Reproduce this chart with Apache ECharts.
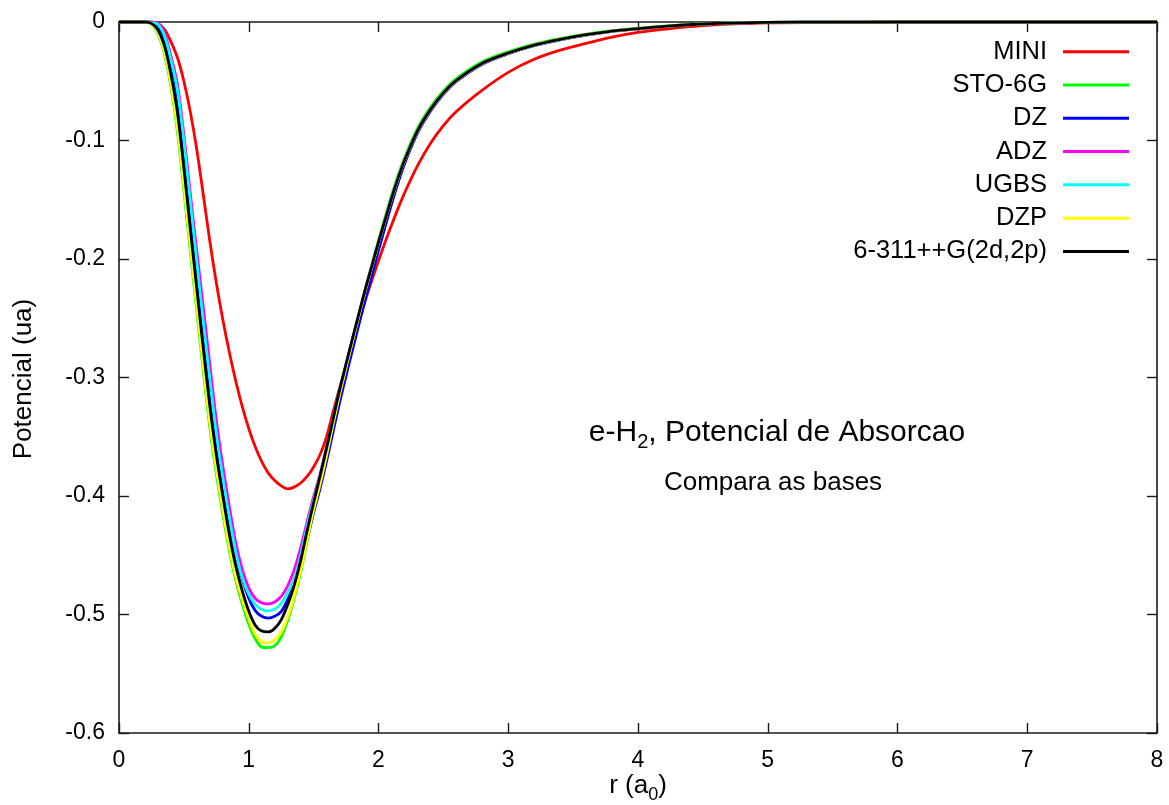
<!DOCTYPE html>
<html>
<head>
<meta charset="utf-8">
<script src="https://cdn.jsdelivr.net/npm/echarts@6/dist/echarts.min.js"></script>
<style>
  html, body { margin: 0; padding: 0; background: #ffffff; }
  #chart { width: 1169px; height: 805px; }
</style>
</head>
<body>
<div id="chart"></div>
<script>
// Radial grid r (a0) shared by every basis-set curve
const r = [0, 0.2, 0.25, 0.3, 0.35, 0.4, 0.45, 0.5,
  0.55, 0.6, 0.65, 0.7, 0.75, 0.8, 0.85, 0.9, 0.95, 1.0,
  1.05, 1.1, 1.15, 1.2, 1.25, 1.3, 1.35, 1.4, 1.45, 1.5, 1.55, 1.6, 1.65, 1.7,
  1.75, 1.8, 1.85, 1.9, 1.95, 2.0, 2.05, 2.1, 2.15, 2.2,
  2.3, 2.4, 2.5, 2.6,
  2.8, 3.0, 3.2, 3.4, 3.6, 3.8, 4.0,
  4.25, 4.5, 5.0, 5.5, 6, 7, 8];

// Absorption potential (ua) for each basis set
const mini = [0, 0, 0, -0.0012, -0.0062, -0.0165, -0.030, -0.050,
  -0.076, -0.108, -0.146, -0.185, -0.220, -0.251, -0.2785, -0.303, -0.3245, -0.343,
  -0.3585, -0.371, -0.3805, -0.387, -0.3915, -0.394, -0.3925, -0.389, -0.3835, -0.3755, -0.365, -0.350, -0.329, -0.309,
  -0.2905, -0.272, -0.2535, -0.2345, -0.2175, -0.2015, -0.186, -0.1715, -0.1575, -0.1445,
  -0.1215, -0.1025, -0.0875, -0.0755,
  -0.0575, -0.0425, -0.0315, -0.0238, -0.018, -0.0128, -0.0088,
  -0.0055, -0.003, -0.0008, -0.0002, 0, 0, 0];

const sto6g = [0, 0, -0.0018, -0.010, -0.027, -0.0545, -0.092, -0.142,
  -0.194, -0.2445, -0.295, -0.342, -0.381, -0.415, -0.446, -0.471, -0.491, -0.508,
  -0.5205, -0.5275, -0.528, -0.5265, -0.519, -0.505, -0.4865, -0.4645, -0.438, -0.4135, -0.391, -0.366, -0.340, -0.3145,
  -0.2905, -0.2685, -0.2465, -0.2248, -0.2043, -0.1842, -0.165, -0.1465, -0.1298, -0.1148,
  -0.0898, -0.072, -0.0582, -0.0478,
  -0.0336, -0.0252, -0.0187, -0.014, -0.0102, -0.0073, -0.0053,
  -0.0031, -0.0016, -0.0004, -0.0001, 0, 0, 0];

const dz = [0, 0, -0.0008, -0.0032, -0.0135, -0.0346, -0.0616, -0.106,
  -0.1575, -0.2083, -0.259, -0.3075, -0.3507, -0.3878, -0.4206, -0.4482, -0.4702, -0.4862,
  -0.4967, -0.5015, -0.503, -0.5015, -0.4975, -0.4874, -0.4746, -0.4581, -0.436, -0.4139, -0.3935, -0.3705, -0.3458, -0.3212,
  -0.2986, -0.2765, -0.2548, -0.2333, -0.2133, -0.1927, -0.1732, -0.1538, -0.136, -0.1198,
  -0.0938, -0.0753, -0.061, -0.0502,
  -0.0356, -0.0268, -0.020, -0.015, -0.011, -0.0079, -0.0058,
  -0.0034, -0.0018, -0.0004, -0.0001, 0, 0, 0];

const adz = [0, 0, -0.0002, -0.001, -0.0094, -0.0286, -0.0522, -0.095,
  -0.145, -0.1935, -0.2408, -0.289, -0.3357, -0.3745, -0.4086, -0.4395, -0.462, -0.4775,
  -0.4865, -0.4902, -0.491, -0.4895, -0.4848, -0.4758, -0.4625, -0.4438, -0.4215, -0.4005, -0.3815, -0.3585, -0.3352, -0.311,
  -0.289, -0.2675, -0.2463, -0.2253, -0.2058, -0.1862, -0.1677, -0.1493, -0.1325, -0.1173,
  -0.0923, -0.0743, -0.0603, -0.0497,
  -0.0352, -0.0266, -0.0198, -0.0149, -0.0109, -0.0079, -0.0058,
  -0.0034, -0.0018, -0.0004, -0.0001, 0, 0, 0];

const ugbs = [0, 0, -0.0006, -0.0022, -0.0116, -0.0319, -0.0573, -0.101,
  -0.1523, -0.2033, -0.254, -0.3015, -0.3478, -0.3848, -0.4182, -0.4475, -0.469, -0.483,
  -0.4915, -0.4958, -0.497, -0.4955, -0.4905, -0.4815, -0.470, -0.450, -0.4255, -0.4035, -0.383, -0.3595, -0.3352, -0.311,
  -0.289, -0.2672, -0.246, -0.225, -0.2055, -0.1859, -0.1675, -0.1491, -0.1323, -0.1171,
  -0.0921, -0.0741, -0.0601, -0.0495,
  -0.035, -0.0264, -0.0197, -0.0148, -0.0108, -0.0078, -0.0057,
  -0.0033, -0.0017, -0.0004, -0.0001, 0, 0, 0];

const dzp = [0, 0, -0.0016, -0.0093, -0.0257, -0.0523, -0.0888, -0.138,
  -0.190, -0.2405, -0.2908, -0.3385, -0.3773, -0.4116, -0.4433, -0.4683, -0.4876, -0.5038,
  -0.5168, -0.5232, -0.524, -0.5215, -0.515, -0.5023, -0.4845, -0.4627, -0.4365, -0.4118, -0.3898, -0.3655, -0.3395, -0.3148,
  -0.2918, -0.2695, -0.2475, -0.226, -0.2061, -0.1862, -0.1674, -0.149, -0.1321, -0.1169,
  -0.0918, -0.0738, -0.0598, -0.0492,
  -0.0348, -0.0262, -0.0195, -0.0146, -0.0107, -0.0077, -0.0056,
  -0.0033, -0.0017, -0.0004, -0.0001, 0, 0, 0];

const pople = [0, 0, -0.0012, -0.0066, -0.020, -0.044, -0.076, -0.123,
  -0.175, -0.2255, -0.2758, -0.324, -0.365, -0.3998, -0.432, -0.459, -0.480, -0.497,
  -0.509, -0.514, -0.5147, -0.5117, -0.5045, -0.4918, -0.4754, -0.4545, -0.4293, -0.4057, -0.383, -0.3595, -0.3352, -0.3107,
  -0.2886, -0.267, -0.2458, -0.2248, -0.2053, -0.1857, -0.1672, -0.1488, -0.132, -0.1168,
  -0.0918, -0.0738, -0.0598, -0.0492,
  -0.0348, -0.0262, -0.0195, -0.0146, -0.0107, -0.0077, -0.0056,
  -0.0033, -0.0017, -0.0004, -0.0001, 0, 0, 0];

const seriesNames = ['MINI', 'STO-6G', 'DZ', 'ADZ', 'UGBS', 'DZP', '6-311++G(2d,2p)'];
const seriesColors = ['#ff0000', '#00ff00', '#0000ff', '#ff00ff', '#00ffff', '#ffff00', '#000000'];
const seriesValues = [mini, sto6g, dz, adz, ugbs, dzp, pople];

// Axis ticks
const xTicks = [0, 1, 2, 3, 4, 5, 6, 7, 8];
const yTicks = [-0.6, -0.5, -0.4, -0.3, -0.2, -0.1, 0];

const FONT = "'Liberation Sans', Arial, Helvetica, sans-serif";
const frameLine = { show: true, onZero: false, lineStyle: { color: '#1a1a1a', width: 1.6 } };
const innerTick = { show: true, inside: true, length: 10, lineStyle: { color: '#1a1a1a', width: 1.4 } };

function xAxisDef(pos, labels) {
  return {
    type: 'value', position: pos,
    min: xTicks[0], max: xTicks[xTicks.length - 1], interval: xTicks[1] - xTicks[0],
    axisLine: frameLine, axisTick: innerTick, splitLine: { show: false },
    axisLabel: { show: labels, fontSize: 23, color: '#000', margin: 16, fontFamily: FONT }
  };
}
function yAxisDef(pos, labels) {
  return {
    type: 'value', position: pos,
    min: yTicks[0], max: yTicks[yTicks.length - 1], interval: 0.1,
    axisLine: frameLine, axisTick: innerTick, splitLine: { show: false },
    axisLabel: { show: labels, fontSize: 23, color: '#000', margin: 14, fontFamily: FONT,
      formatter: v => String(Math.round(v * 10) / 10) }
  };
}

// Text width helper, used to place subscripts next to the text they follow
const measureCtx = document.createElement('canvas').getContext('2d');
function textWidth(text, size) {
  measureCtx.font = size + 'px ' + FONT;
  return measureCtx.measureText(text).width;
}
// Text with a subscript: [before, sub, after], centred on cx, main baseline at by
function subscriptText(parts, cx, by, size, subSize, drop) {
  const w0 = textWidth(parts[0], size), w1 = textWidth(parts[1], subSize), w2 = textWidth(parts[2], size);
  const x0 = cx - (w0 + w1 + w2) / 2;
  const mid = (b, s) => b - 0.3465 * s;
  const piece = (t, x, s, b) => ({
    type: 'text', x: x, y: mid(b, s),
    style: { text: t, font: s + 'px ' + FONT, fill: '#000', align: 'left', verticalAlign: 'middle' }
  });
  return [
    piece(parts[0], x0, size, by),
    piece(parts[1], x0 + w0, subSize, by + drop),
    piece(parts[2], x0 + w0 + w1, size, by)
  ];
}

const chart = echarts.init(document.getElementById('chart'), null, { renderer: 'canvas' });

chart.setOption({
  animation: false,
  backgroundColor: '#ffffff',
  grid: { left: 119, right: 12, top: 22, bottom: 72 },
  xAxis: [xAxisDef('bottom', true), xAxisDef('top', false)],
  yAxis: [yAxisDef('left', true), yAxisDef('right', false)],
  legend: {
    orient: 'vertical', align: 'right', right: 40, top: 35, padding: 0,
    itemGap: 0, itemWidth: 66, itemHeight: 3, icon: 'rect', selectedMode: false,
    textStyle: { fontSize: 25.5, lineHeight: 33.3, color: '#000', fontFamily: FONT, padding: [0, 11, 0, 0] },
    data: seriesNames
  },
  series: seriesNames.map((name, i) => ({
    name: name,
    type: 'line',
    xAxisIndex: 0, yAxisIndex: 0,
    data: r.map((x, j) => [x, seriesValues[i][j]]),
    showSymbol: false, symbol: 'none',
    smooth: 0.3,
    clip: false,
    color: seriesColors[i],
    lineStyle: { color: seriesColors[i], width: 2.8 },
    z: 2 + i
  })),
  graphic: [
    {
      type: 'text', x: 24, y: 379, rotation: Math.PI / 2,
      style: { text: 'Potencial (ua)', font: '26px ' + FONT, fill: '#000', align: 'center', verticalAlign: 'middle' }
    },
    ...subscriptText(['r (a', '0', ')'], 638, 795, 26, 18, 6),
    ...subscriptText(['e-H', '2', ', Potencial de Absorcao'], 777, 443, 30, 20, 6),
    {
      type: 'text', x: 773, y: 492 - 0.3465 * 26,
      style: { text: 'Compara as bases', font: '26px ' + FONT, fill: '#000', align: 'center', verticalAlign: 'middle' }
    }
  ]
});
</script>
</body>
</html>
